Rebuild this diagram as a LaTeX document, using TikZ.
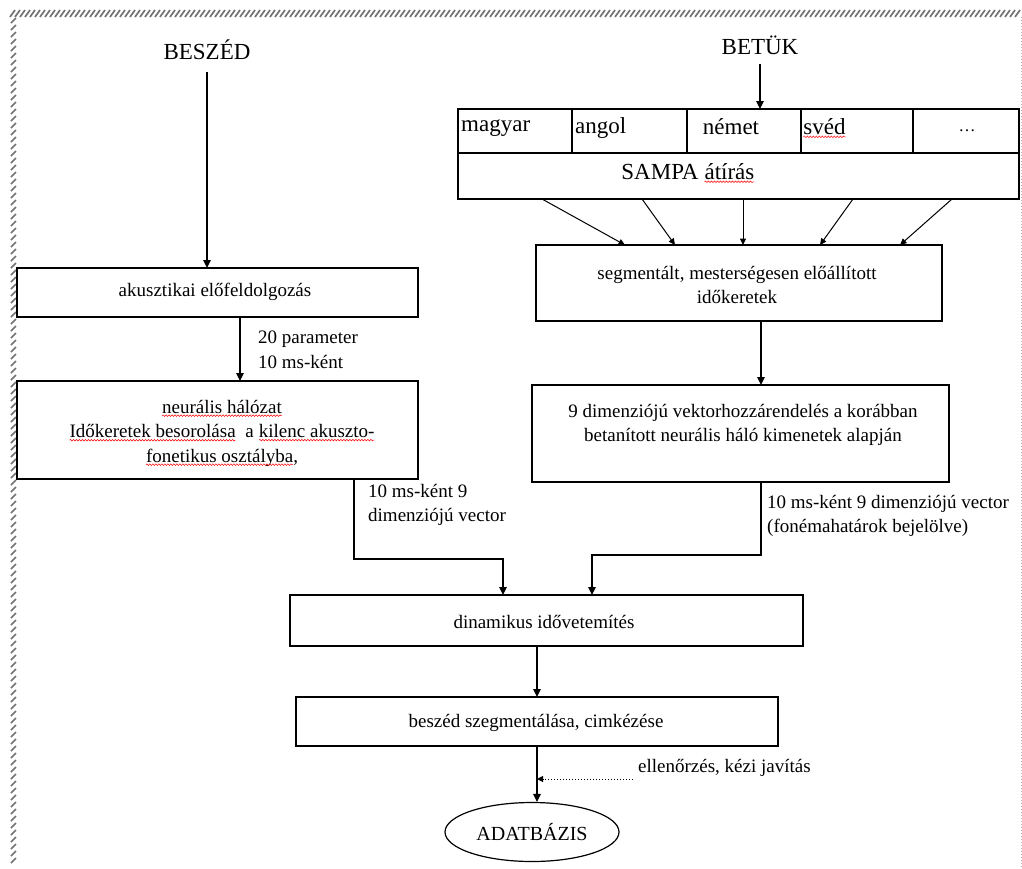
\documentclass[tikz,border=0pt]{standalone}
\usepackage{fontspec}
\setmainfont{Liberation Serif}
\usetikzlibrary{arrows.meta,shapes.geometric,decorations.pathmorphing}

% red spell-check squiggle under a word
\newcommand{\spl}[1]{\tikz[baseline=(w.base)]{\node[inner sep=0pt,outer sep=0pt](w){#1};\draw[red,line width=0.5pt,decorate,decoration={snake,amplitude=0.8pt,segment length=3pt}]([yshift=-2.6pt]w.base west) -- ([yshift=-2.6pt]w.base east);}}

\tikzset{
  panel/.style 2 args={draw, line width=1.4pt, inner sep=0pt, outer sep=0pt,
    minimum width=#1, minimum height=#2},
  txt/.style={inner sep=0pt, align=center, font=\fontsize{19}{24.5}\selectfont},
  ltxt/.style={inner sep=0pt, align=left, anchor=west, font=\fontsize{19}{24.5}\selectfont},
  big/.style={inner sep=0pt, font=\fontsize{23}{27}\selectfont},
  arr/.style={line width=1.3pt, -{Triangle[length=8pt,width=7.5pt]}},
  thinarr/.style={line width=1pt, -{Triangle[length=6.5pt,width=6pt]}},
  dotarr/.style={line width=1pt, dotted, -{Triangle[length=6pt,width=6pt]}},
  hatch/.style={black!55, line width=1.7pt},
}

\begin{document}
\begin{tikzpicture}[x=1pt, y=-1pt]
\useasboundingbox (0,0) rectangle (1022,868);

% hatched page frame: top and left bands, dotted right edge
\foreach \x in {10,15,...,1016} \draw[hatch] (\x,17) -- (\x+5,10);
\foreach \y in {20,27,...,866} \draw[hatch] (11,\y+3) -- (16,\y-2);
\draw[gray!60, line width=1pt, dotted] (1021,17) -- (1021,868);

% ---------- left branch: speech ----------
\node[big] (beszed) at (207,50) {BESZÉD};
\node[panel={401pt}{49pt}] (akusz) at (217.5,292.5) {};
\node[txt] (akusztxt) at (215,292) {akusztikai előfeldolgozás};
\node[panel={401pt}{98pt}] (neur) at (217.5,430) {};
\node[txt] (neurtxt) at (222,433) {\spl{neurális hálózat}\\\spl{Időkeretek besorolása}\ \ a \spl{kilenc akuszto-}\\\spl{fonetikus osztályba},};
\node[ltxt] (param) at (258,350) {20 parameter\\10 ms-ként};
\node[ltxt] (vec1) at (368,505) {10 ms-ként 9\\dimenziójú vector};

% ---------- right branch: letters ----------
\node[big] (betuk) at (760,45) {BETÜK};
\node[panel={114pt}{44pt}] (c1) at (515,131) {};
\node[panel={115pt}{44pt}] (c2) at (629.5,131) {};
\node[panel={114pt}{44pt}] (c3) at (744,131) {};
\node[panel={112pt}{44pt}] (c4) at (857,131) {};
\node[panel={106pt}{44pt}] (c5) at (966,131) {};
\node[panel={561pt}{46pt}] (sampa) at (738.5,176) {};
\node[big, anchor=west] (lhu) at (461,128) {magyar};
\node[big, anchor=west] (len) at (575,128) {angol};
\node[big] (lde) at (731,127) {német};
\node[big, anchor=west] (lsv) at (803,128) {\spl{svéd}};
\node[big] (lmore) at (967,131) {\fontsize{17}{20}\selectfont\dots};
\node[big] (sampatxt) at (688,173) {SAMPA \spl{átírás}};

\node[panel={406pt}{76pt}] (seg) at (739,283) {};
\node[txt] (segtxt) at (737,285) {segmentált, mesterségesen előállított\\időkeretek};
\node[panel={417pt}{97pt}] (dim9) at (740.5,433.5) {};
\node[txt] (dim9txt) at (743,425) {9 dimenziójú vektorhozzárendelés a korábban\\betanított neurális háló kimenetek alapján};
\node[ltxt] (vec2) at (767,516) {10 ms-ként 9 dimenziójú vector\\(fonémahatárok bejelölve)};

% ---------- common part ----------
\node[panel={513pt}{51pt}] (din) at (546.5,620.5) {};
\node[txt] (dintxt) at (544,622) {dinamikus idővetemítés};
\node[panel={482pt}{49pt}] (besz) at (537,721.5) {};
\node[txt] (besztxt) at (536,723) {beszéd szegmentálása, cimkézése};
\node[draw, ellipse, line width=1.2pt, inner sep=0pt, minimum width=174pt, minimum height=59pt,
      font=\fontsize{20}{24}\selectfont] (db) at (532,832) {ADATBÁZIS};
\node[ltxt] (check) at (638,768) {ellenőrzés, kézi javítás};
\coordinate (checkend) at (633,779);

% ---------- connectors ----------
\draw[arr] ([yshift=-12pt]beszed.south) -- (beszed.south |- akusz.north);
\draw[arr] ([xshift=22.5pt]akusz.south) -- ([xshift=22.5pt]neur.north);
\draw[arr] ([yshift=-9pt]betuk.south) -- (betuk.south |- c3.north);

\draw[thinarr] ([xshift=-196.5pt]sampa.south) -- ([xshift=-114pt]seg.north);
\draw[thinarr] ([xshift=-96.5pt]sampa.south) -- ([xshift=-64pt]seg.north);
\draw[thinarr] ([xshift=4.5pt]sampa.south) -- ([xshift=4pt]seg.north);
\draw[thinarr] ([xshift=114.5pt]sampa.south) -- ([xshift=81pt]seg.north);
\draw[thinarr] ([xshift=213.5pt]sampa.south) -- ([xshift=161pt]seg.north);

\draw[arr] ([xshift=22pt]seg.south) -- ([xshift=22pt]seg.south |- dim9.north);

\draw[arr] ([xshift=136.5pt]neur.south) -- ++(0,80) -| ([xshift=-43.5pt]din.north);
\draw[arr] ([xshift=20.5pt]dim9.south) -- ++(0,73) -| ([xshift=45.5pt]din.north);

\draw[arr] ([xshift=-9.5pt]din.south) -- (besz.north);
\draw[arr] (besz.south) -- (besz.south |- db.north);
\draw[dotarr] (checkend) -- (checkend -| besz.south);
\end{tikzpicture}
\end{document}
